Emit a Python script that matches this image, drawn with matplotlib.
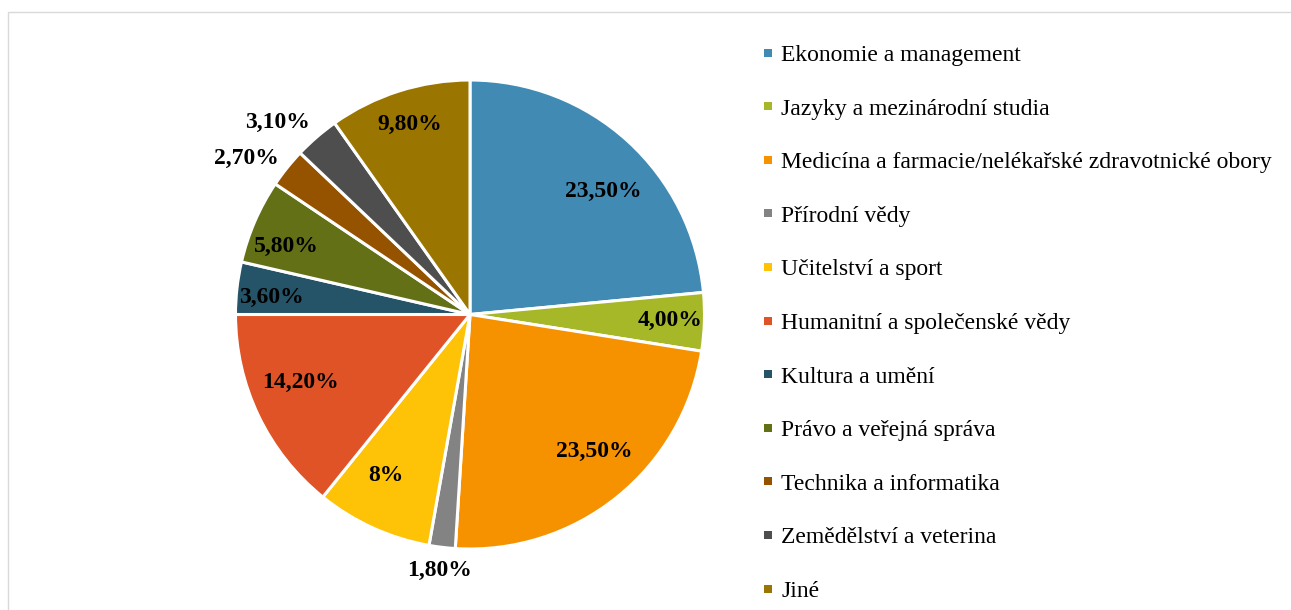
import numpy as np
import matplotlib.pyplot as plt
from matplotlib.patches import Rectangle

obory = ['Ekonomie a management', 'Jazyky a mezinárodní studia',
         'Medicína a farmacie/nelékařské zdravotnické obory', 'Přírodní vědy',
         'Učitelství a sport', 'Humanitní a společenské vědy', 'Kultura a umění',
         'Právo a veřejná správa', 'Technika a informatika',
         'Zemědělství a veterina', 'Jiné']
podil = [23.5, 4.0, 23.5, 1.8, 8.0, 14.2, 3.6, 5.8, 2.7, 3.1, 9.8]
popisky = ['23,50%', '4,00%', '23,50%', '1,80%', '8%', '14,20%', '3,60%',
           '5,80%', '2,70%', '3,10%', '9,80%']
barvy = ['#418AB3', '#A6B727', '#F69200', '#838383', '#FEC306', '#DF5327',
         '#255468', '#637016', '#955300', '#4E4E4E', '#9A7600']

# vzdalenost popisku od stredu (v polomerech) a posun uhlu ve stupnich
vzdal = [0.772, 0.855, 0.79, 1.10, 0.775, 0.78, 0.85, 0.837, 1.165, 1.16, 0.85]
posun = [-4.9, 0, 3.5, 0, -3, -3.8, 1.6, 3, 3.8, 4.3, 0]

plt.rcParams['font.family'] = ['Liberation Serif', 'DejaVu Serif']

W, H = 1291, 610
fig = plt.figure(figsize=(W / 100, H / 100), dpi=100)

# ramecek
fig.patches.append(Rectangle((8 / W, -0.01), 1.0, (610 - 12) / H + 0.01,
                             transform=fig.transFigure, fill=False,
                             edgecolor='#D9D9D9', linewidth=1))

cx, cy, r = 470, 295.5, 234.5
ax = fig.add_axes([(cx - r) / W, (cy - r) / H, 2 * r / W, 2 * r / H])
wedges, _ = ax.pie(podil, colors=barvy, startangle=90, counterclock=False,
                   radius=1, wedgeprops=dict(edgecolor='white', linewidth=2.2))
ax.set_xlim(-1, 1)
ax.set_ylim(-1, 1)
ax.set_aspect('equal')
ax.axis('off')

cum = np.cumsum([0] + podil[:-1])
for i, w in enumerate(podil):
    mid = 90 - (cum[i] + w / 2) / 100 * 360 + posun[i]
    a = np.deg2rad(mid)
    ax.text(vzdal[i] * np.cos(a), vzdal[i] * np.sin(a), popisky[i],
            ha='center', va='center', fontsize=17, fontweight='bold',
            color='black')

# legenda
y0, dy = 61, 53.6
for i, name in enumerate(obory):
    y = y0 + i * dy
    fig.patches.append(Rectangle((764 / W, 1 - (y - 4.5) / H), 8 / W, 8 / H,
                                 transform=fig.transFigure,
                                 facecolor=barvy[i], edgecolor='none'))
    fig.text(781 / W, 1 - y / H, name, ha='left', va='baseline',
             fontsize=17, color='black')

fig.savefig('out.png', dpi=100)
